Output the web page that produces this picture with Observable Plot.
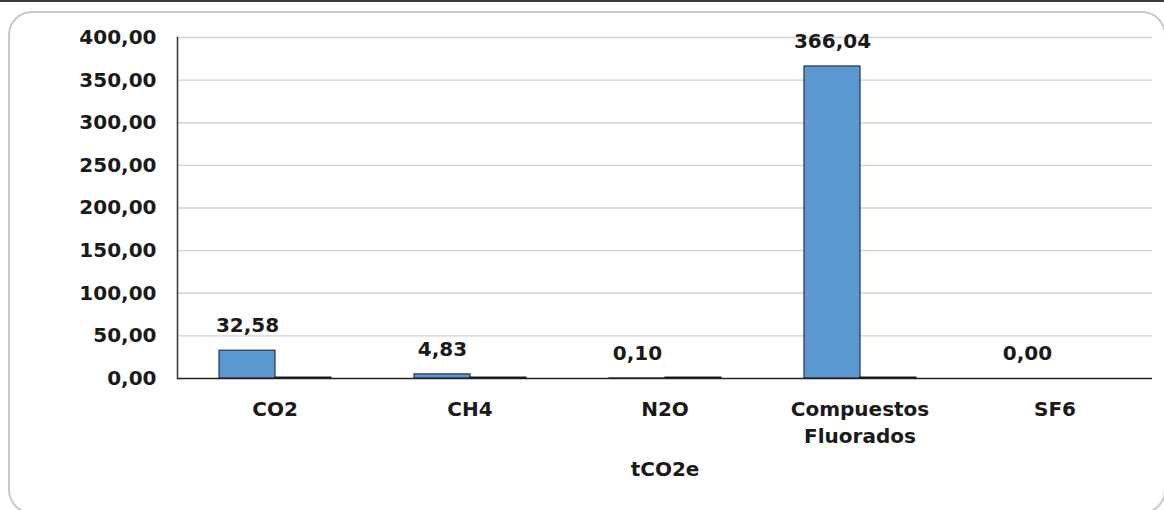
<!DOCTYPE html>
<html><head><meta charset="utf-8">
<script src="https://cdn.jsdelivr.net/npm/d3@7"></script>
<script src="https://cdn.jsdelivr.net/npm/@observablehq/plot@0.6"></script>
<style>
html,body{margin:0;padding:0;background:#fff;}
#wrap{position:relative;width:1164px;height:510px;overflow:hidden;}
#topline{position:absolute;left:0;top:0;width:1164px;height:2px;background:#3a3a3a;}
#box{position:absolute;left:8px;top:11px;width:1158px;height:503px;border:2px solid #c9c9c9;border-radius:24px;box-sizing:border-box;}
#chart{position:absolute;left:0;top:0;}
</style></head><body>
<div id="wrap"><div id="topline"></div><div id="box"></div><div id="chart"></div></div>
<script>
const categories = ["CO2", "CH4", "N2O", "Compuestos Fluorados", "SF6"];
const categoryLabels = ["CO2", "CH4", "N2O", "Compuestos\nFluorados", "SF6"];
const emissions = [32.58, 4.83, 0.10, 366.04, 0.00];
const secondary = [1, 1, 1, 1, 0];
const series = ["tCO2e", "otros"];
const yTicks = [0, 50, 100, 150, 200, 250, 300, 350, 400];
const axisTitle = "tCO2e";

const primaryRows = categories.map((c, i) => ({cat: c, serie: series[0], value: emissions[i]}));
const secondaryRows = categories.map((c, i) => ({cat: c, serie: series[1], value: secondary[i]}));
const fmt = v => v.toFixed(2).replace(".", ",");

const chart = Plot.plot({
  width: 1164, height: 510,
  marginLeft: 176, marginRight: 11, marginTop: 37, marginBottom: 132,
  style: {fontFamily: "DejaVu Sans", fontWeight: "bold", fontSize: "20px", color: "#1a1a1a", background: "transparent"},
  fx: {domain: categories, padding: 0, axis: null},
  x: {domain: series, paddingInner: 0, paddingOuter: 0.73, axis: null},
  y: {domain: [0, 400], axis: null},
  marks: [
    Plot.ruleY(yTicks.filter(t => t > 0), {stroke: "#d2d2d2", strokeWidth: 1.3}),
    Plot.barY(primaryRows, {fx: "cat", x: "serie", y: "value", fill: "#5B97D1", stroke: "#22364d", strokeWidth: 1.2}),
    Plot.barY(secondaryRows, {fx: "cat", x: "serie", y: "value", fill: "#111", stroke: "#111", strokeWidth: 1.2}),
    Plot.ruleY([0], {stroke: "#222", strokeWidth: 1.5}),
    Plot.frame({anchor: "left", facet: "super", stroke: "#333", strokeWidth: 1.5}),
    Plot.axisY({anchor: "left", ticks: yTicks, tickFormat: fmt, tickSize: 0, tickPadding: 21, label: null}),
    Plot.axisFx({anchor: "bottom", tickSize: 0, tickPadding: 18, lineHeight: 1.35, label: null, tickFormat: c => categoryLabels[categories.indexOf(c)]}),
    Plot.text(primaryRows, {fx: "cat", x: "serie", y: "value", text: d => fmt(d.value), dy: -25, lineAnchor: "middle", fill: "#1a1a1a"}),
    Plot.text([axisTitle], {facet: "super", frameAnchor: "bottom", dy: 91, lineAnchor: "middle", fill: "#1a1a1a"})
  ]
});
document.getElementById("chart").appendChild(chart);
</script>
</body></html>
